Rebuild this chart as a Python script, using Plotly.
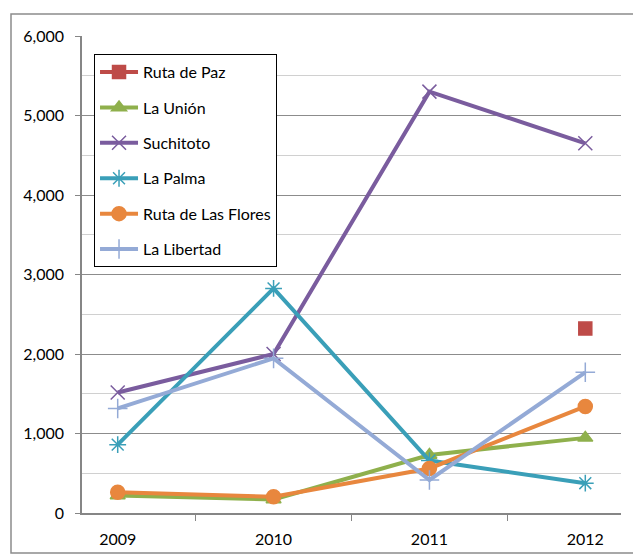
import plotly.graph_objects as go

years = ["2009", "2010", "2011", "2012"]
series_names = ["Ruta de Paz", "La Unión", "Suchitoto", "La Palma", "Ruta de Las Flores", "La Libertad"]
ruta_de_paz = [None, None, None, 2320]
la_union = [220, 170, 730, 945]
suchitoto = [1515, 2000, 5300, 4650]
la_palma = [860, 2825, 660, 375]
ruta_flores = [260, 205, 560, 1340]
la_libertad = [1315, 1945, 415, 1770]
y_ticks = [0, 1000, 2000, 3000, 4000, 5000, 6000]

values = [ruta_de_paz, la_union, suchitoto, la_palma, ruta_flores, la_libertad]
colors = ["#BE4B48", "#8FB04C", "#7A5C9E", "#3A9FB8", "#E8873E", "#94AAD6"]
symbols = ["square", "triangle-up", "x-thin-open", "asterisk-open", "circle", "cross-thin-open"]
sizes = [13, 13, 14, 14, 14, 14]

fig = go.Figure()
for i, (name, vals) in enumerate(zip(series_names, values)):
    fig.add_trace(go.Scatter(
        x=years, y=vals, name=name, mode="lines+markers",
        line=dict(color=colors[i], width=4),
        marker=dict(symbol=symbols[i], size=sizes[i], color=colors[i],
                    line=dict(color=colors[i], width=1.5)),
        legendgroup=name,
    ))

fig.update_layout(
    width=633, height=555,
    margin=dict(l=82, r=12, t=36, b=42, autoexpand=False),
    paper_bgcolor="white", plot_bgcolor="white",
    font=dict(family="Lato, 'Open Sans', sans-serif", size=16, color="black"),
    showlegend=True,
    legend=dict(x=0.0223, y=0.962, xanchor="left", yanchor="top",
                bordercolor="black", borderwidth=1, bgcolor="white",
                font=dict(size=16), tracegroupgap=11.6, itemwidth=38),
    xaxis=dict(type="category", showline=True, linecolor="#868686", linewidth=1.5,
               ticks="outside", ticklen=6, tickcolor="#868686", tickson="boundaries",
               ticklabelstandoff=11, automargin=False,
               showgrid=False, mirror=False),
    yaxis=dict(range=[0, 6000], tickvals=y_ticks, tickformat=",d",
               showline=True, linecolor="#868686", linewidth=1.5,
               ticks="outside", ticklen=5, tickcolor="#868686",
               ticklabelstandoff=8, automargin=False,
               showgrid=True, gridcolor="#8C8C8C", gridwidth=1,
               minor=dict(dtick=500, showgrid=True, gridcolor="#D0D0D0", gridwidth=1),
               zeroline=False),
    shapes=[dict(type="rect", xref="paper", yref="paper",
                 x0=(11 - 82) / 539, x1=(700 - 82) / 539,
                 y0=(513 - 553) / 477, y1=(513 - 14) / 477,
                 line=dict(color="#8C8C8C", width=1.5), layer="below")],
)

fig.write_html("out.html")
